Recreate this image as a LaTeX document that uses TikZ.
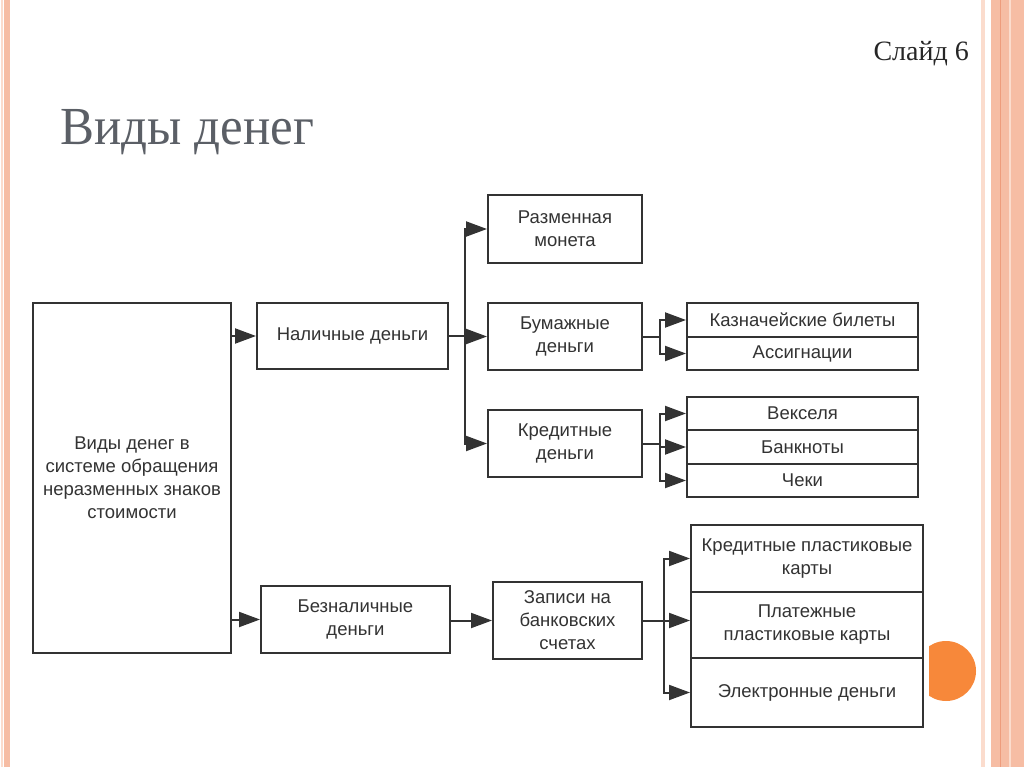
\documentclass[tikz,border=0pt]{standalone}
\usepackage{fontspec}
\setmainfont{Liberation Serif}
\setsansfont{Liberation Sans}
\usepackage{tikz}
\usetikzlibrary{positioning,arrows.meta,calc}
\definecolor{boxline}{HTML}{333333}
\definecolor{titlegray}{HTML}{5B5F66}
\definecolor{framelight}{HTML}{FBDCCD}
\definecolor{frameband}{HTML}{F6BDA4}
\definecolor{framedark}{HTML}{EE9C7C}
\definecolor{dotorange}{HTML}{F7883A}

\begin{document}
\begin{tikzpicture}[x=1pt, y=-1pt,
  box/.style={draw=boxline, line width=2pt, fill=white, align=center,
              inner sep=0pt, text=boxline,
              font=\sffamily\fontsize{18.5}{23}\selectfont},
  conn/.style={draw=boxline, line width=2pt},
  arr/.style={conn, -{Triangle[length=21pt, width=15pt]}}
]
  \useasboundingbox (0,0) rectangle (1024,767);

  % Slide frame
  \fill[framelight] (1,0) rectangle (3,767);
  \fill[frameband] (4,0) rectangle (10,767);
  \fill[framelight] (981,0) rectangle (985,767);
  \fill[frameband] (991,0) rectangle (1024,767);
  \draw[framedark, line width=1pt] (1000,0) -- (1000,767);
  \draw[framelight, line width=1.5pt] (1010,0) -- (1010,767);

  % Orange dot
  \begin{scope}
    \clip (929,600) rectangle (980,740);
    \fill[dotorange] (946,671) circle (30);
  \end{scope}

  % Titles
  \node[anchor=base east, inner sep=0pt, text=black!85,
        font=\fontsize{28}{30}\selectfont] (slide) at (969,61) {Слайд 6};
  \node[anchor=base west, inner sep=0pt, text=titlegray, yscale=1.05,
        font=\fontsize{51}{56}\selectfont] (title) at (60,145) {Виды денег};

  % Main box
  \node[box, minimum width=198, minimum height=350] (V) at (132,478)
    {Виды денег в\\системе обращения\\неразменных знаков\\стоимости};

  % Cash
  \node[box, minimum width=191, minimum height=66] (nal) at (352.5,336)
    {Наличные деньги};
  \node[box, minimum width=154, minimum height=68] (razm) at (565,229)
    {Разменная\\монета};
  \node[box, minimum width=154, minimum height=67] (bum) at (565,336.5)
    {Бумажные\\деньги};
  \node[box, minimum width=154, minimum height=67] (kred) at (565,443.5)
    {Кредитные\\деньги};

  % Paper money
  \node[box, minimum width=231, minimum height=34] (kazn) at (802.5,320)
    {Казначейские билеты};
  \node[box, minimum width=231, minimum height=33] (assig) at (802.5,353.5)
    {Ассигнации};

  % Credit money
  \node[box, minimum width=231, minimum height=33] (veks) at (802.5,413.5)
    {Векселя};
  \node[box, minimum width=231, minimum height=34] (bankn) at (802.5,447)
    {Банкноты};
  \node[box, minimum width=231, minimum height=33] (cheki) at (802.5,480.5)
    {Чеки};

  % Non-cash
  \node[box, minimum width=189, minimum height=67] (beznal) at (355.5,619.5)
    {Безналичные\\деньги};
  \node[box, minimum width=149, minimum height=77] (zap) at (567.5,620.5)
    {Записи на\\банковских\\счетах};
  \node[box, minimum width=232, minimum height=67] (kpk) at (807,558.5)
    {Кредитные пластиковые\\карты};
  \node[box, minimum width=232, minimum height=66] (ppk) at (807,625)
    {Платежные\\пластиковые карты};
  \node[box, minimum width=232, minimum height=69] (edeng) at (807,692.5)
    {Электронные деньги};

  % Connectors
  \draw[arr] (V.east |- nal.west) -- (nal.west);
  \draw[arr] (V.east |- beznal.west) -- (beznal.west);
  \draw[arr] (beznal.east |- zap.west) -- (zap.west);

  \coordinate (busN) at (465,336);
  \draw[conn] (nal.east) -- (busN);
  \foreach \t in {razm,bum,kred}
    \draw[arr] (busN) |- (\t.west);

  \coordinate (busB) at (660,336.5);
  \draw[conn] (bum.east) -- (busB);
  \foreach \t in {kazn,assig}
    \draw[arr] (busB) |- (\t.west);

  \coordinate (busK) at (660,443.5);
  \draw[conn] (kred.east) -- (busK);
  \foreach \t in {veks,bankn,cheki}
    \draw[arr] (busK) |- (\t.west);

  \coordinate (busZ) at (664,620.5);
  \draw[conn] (zap.east) -- (busZ);
  \draw[arr] (busZ) |- (kpk.west);
  \draw[arr] (busZ) -- (busZ -| ppk.west);
  \draw[arr] (busZ) |- (edeng.west);
\end{tikzpicture}
\end{document}
